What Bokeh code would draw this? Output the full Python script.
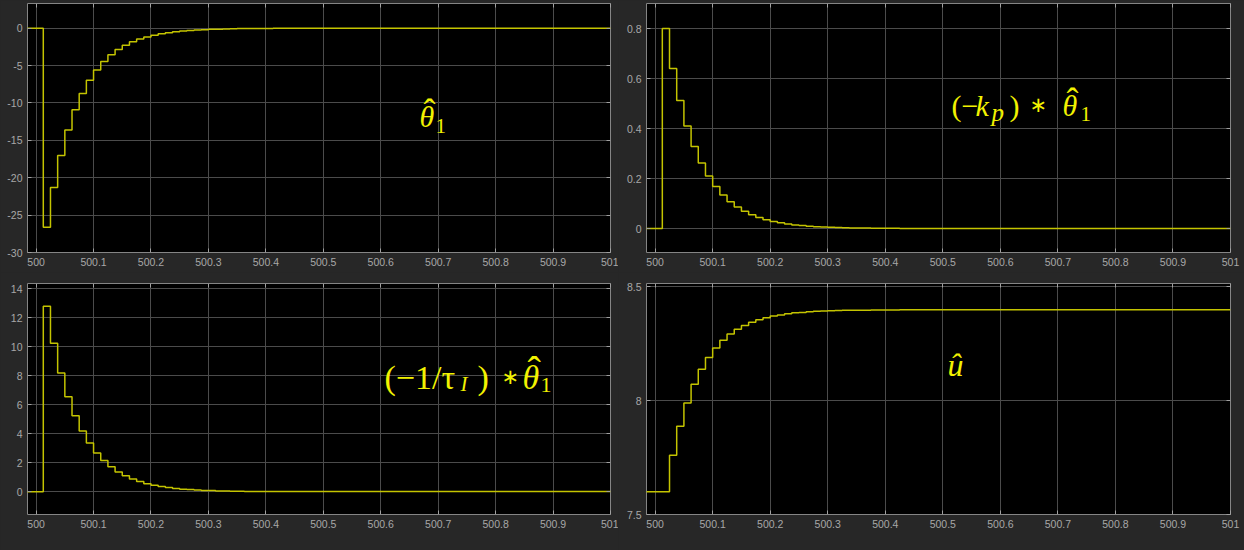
import numpy as np
from bokeh.plotting import figure
from bokeh.layouts import column, row
from bokeh.models import (Range1d, FixedTicker, NumeralTickFormatter, Label, LinearAxis,
                          CustomJSTickFormatter)
from bokeh.embed import file_html
from bokeh.resources import INLINE

# ---------------- data ----------------
sample_period = 0.0125
# sample times 499.975 ... 500.4375, then a final held point at 501
sample_times = list(500.0 + sample_period * np.arange(-2, 36)) + [501.0]

theta_hat = [0, 0, 0, -26.63, -21.30, -17.04, -13.63, -10.91, -8.73, -6.98,
             -5.58, -4.47, -3.57, -2.86, -2.29, -1.83, -1.46, -1.17, -0.94, -0.75,
             -0.60, -0.48, -0.38, -0.31, -0.25, -0.20, -0.16, -0.13, -0.10, -0.08,
             -0.06, -0.05, -0.04, -0.03, -0.03, -0.02, -0.02, -0.01, 0.0]

kp_term = [0, 0, 0, 0.80, 0.64, 0.512, 0.41, 0.328, 0.262, 0.21,
           0.168, 0.134, 0.107, 0.086, 0.069, 0.055, 0.044, 0.035, 0.028, 0.023,
           0.018, 0.014, 0.012, 0.009, 0.007, 0.006, 0.005, 0.004, 0.003, 0.002,
           0.002, 0.002, 0.001, 0.001, 0.001, 0.001, 0.0, 0.0, 0.0]

ti_term = [0, 0, 0, 12.8, 10.24, 8.19, 6.55, 5.24, 4.19, 3.36,
           2.68, 2.15, 1.72, 1.37, 1.10, 0.88, 0.70, 0.56, 0.45, 0.36,
           0.29, 0.23, 0.18, 0.15, 0.12, 0.09, 0.08, 0.06, 0.05, 0.04,
           0.03, 0.02, 0.02, 0.02, 0.01, 0.01, 0.01, 0.01, 0.0]

u_hat = [7.6, 7.6, 7.6, 7.6, 7.76, 7.888, 7.99, 8.072, 8.138, 8.19,
         8.232, 8.266, 8.293, 8.314, 8.331, 8.345, 8.356, 8.365, 8.372, 8.377,
         8.382, 8.386, 8.388, 8.391, 8.393, 8.394, 8.395, 8.396, 8.397, 8.398,
         8.398, 8.398, 8.399, 8.399, 8.399, 8.399, 8.4, 8.4, 8.4]

x_ticks = [500.0, 500.1, 500.2, 500.3, 500.4, 500.5, 500.6, 500.7, 500.8, 500.9, 501.0]
y_ticks_theta = [-30, -25, -20, -15, -10, -5, 0]
y_ticks_kp = [0, 0.2, 0.4, 0.6, 0.8]
y_ticks_ti = [0, 2, 4, 6, 8, 10, 12, 14]
y_ticks_u = [7.5, 8, 8.5]

# ---------------- style ----------------
BG = "#272727"
GRID = "#4b4b4b"
FRAME = "#858585"
TICK = "#a0a0a0"
TXT = "#a8a8a8"
LINE = "#c4c400"
LBL = "#f2f200"
SANS = "Liberation Sans"
SERIF = "Liberation Serif"


def make_panel(width, height, bl, br, bt, bb, yr, yticks, ydata):
    p = figure(width=width, height=height, output_backend="svg", toolbar_location=None,
               x_range=Range1d(499.985, 501.0), y_range=Range1d(*yr),
               min_border_left=bl, min_border_right=br, min_border_top=bt, min_border_bottom=bb)
    p.background_fill_color = "black"
    p.border_fill_color = BG
    p.outline_line_color = FRAME
    p.outline_line_width = 1
    for ax in (p.xaxis[0], p.yaxis[0]):
        ax.axis_line_color = None
        ax.major_tick_in = 4
        ax.major_tick_out = 0
        ax.major_tick_line_color = TICK
        ax.minor_tick_line_color = None
        ax.major_label_text_color = TXT
        ax.major_label_text_font = SANS
        ax.major_label_text_font_size = "10.5px"
        ax.formatter = NumeralTickFormatter(format="0.[0]")
    p.xaxis[0].ticker = FixedTicker(ticks=x_ticks)
    p.yaxis[0].ticker = FixedTicker(ticks=yticks)
    p.xaxis[0].major_label_standoff = 5
    p.yaxis[0].major_label_standoff = 5
    # box ticks on the top and right edges (no labels)
    for side, ticks in (("above", x_ticks), ("right", yticks)):
        bx = LinearAxis(ticker=FixedTicker(ticks=ticks),
                        formatter=CustomJSTickFormatter(code="return ''"),
                        axis_line_color=None, major_tick_in=4, major_tick_out=0,
                        major_tick_line_color=TICK, minor_tick_line_color=None,
                        major_label_text_font_size="0px", major_label_standoff=0)
        p.add_layout(bx, side)
    for g in (p.xgrid[0], p.ygrid[0]):
        g.grid_line_color = GRID
        g.grid_line_width = 1
    p.step(sample_times, ydata, mode="after", line_color=LINE, line_width=1.5)
    return p


# panel geometry: left frames x 27..610, right frames x 646..1230
p1 = make_panel(618, 272, 27, 8, 3, 20, (-30.0, 3.3), y_ticks_theta, theta_hat)
p2 = make_panel(626, 272, 28, 14, 3, 20, (-0.096, 0.9), y_ticks_kp, kp_term)
p3 = make_panel(618, 278, 27, 8, 11, 36, (-1.57, 14.37), y_ticks_ti, ti_term)
p4 = make_panel(626, 278, 28, 14, 11, 36, (7.5, 8.515), y_ticks_u, u_hat)


def px_to_data(p, frame_left, frame_top, frame_w, frame_h, px, py):
    xr, yr = p.x_range, p.y_range
    x = xr.start + (px - frame_left) / frame_w * (xr.end - xr.start)
    y = yr.end - (py - frame_top) / frame_h * (yr.end - yr.start)
    return x, y


def add_pieces(p, frame, pieces):
    fl, ft, fw, fh = frame
    for text, px, py, size, style, font in pieces:
        # empirical correction of the baseline placement
        x, y = px_to_data(p, fl, ft, fw, fh, px, py - 0.3 * size)
        p.add_layout(Label(x=x, y=y, text=text, text_color=LBL, text_font=font,
                           text_font_size=f"{size}px", text_font_style=style,
                           text_align="left", text_baseline="alphabetic"))


DJ = "DejaVu Sans"
add_pieces(p1, (27, 3, 583, 249), [
    ("θ", 419, 125, 30, "italic", SERIF),
    ("ˆ", 423, 122, 36, "normal", SERIF),
    ("1", 435, 132, 21, "normal", SERIF),
])
add_pieces(p2, (646, 3, 584, 249), [
    ("(−", 951, 114, 30, "normal", SERIF),
    ("k", 975, 114, 30, "italic", SERIF),
    ("p", 991, 119, 25, "italic", SERIF),
    (")", 1009, 114, 30, "normal", SERIF),
    ("∗", 1029, 111, 21, "normal", DJ),
    ("θ", 1062, 114, 30, "italic", SERIF),
    ("ˆ", 1066, 111, 36, "normal", SERIF),
    ("1", 1080, 120, 21, "normal", SERIF),
])
add_pieces(p3, (27, 283, 583, 231), [
    ("(−1/τ", 384, 387, 34, "normal", SERIF),
    ("I", 460, 390, 21, "italic", SERIF),
    (")", 477, 387, 34, "normal", SERIF),
    ("∗", 501, 383, 21, "normal", DJ),
    ("θ", 522, 387, 34, "italic", SERIF),
    ("ˆ", 527, 382, 40, "normal", SERIF),
    ("1", 540, 391, 22, "normal", SERIF),
])
add_pieces(p4, (646, 283, 584, 231), [
    ("û", 947, 374, 32, "italic", SERIF),
])

layout = column(row(p1, p2, styles={"background-color": BG}),
                row(p3, p4, styles={"background-color": BG}),
                styles={"background-color": BG})
open("out.html", "w").write(file_html(layout, INLINE))
